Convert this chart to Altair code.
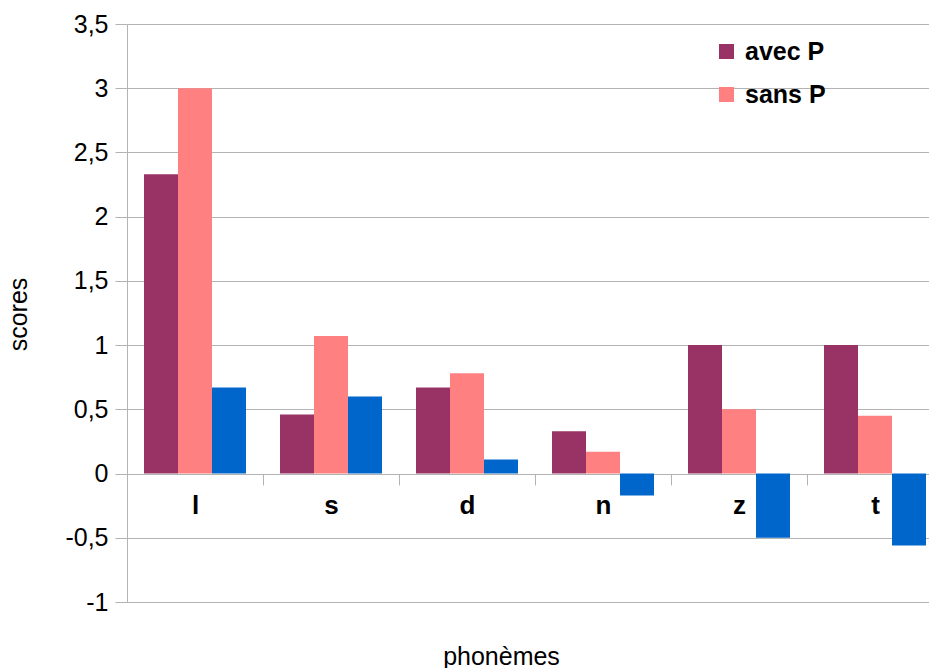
import altair as alt
import pandas as pd

phonemes = ["l", "s", "d", "n", "z", "t"]
avec_p = [2.33, 0.46, 0.67, 0.33, 1.0, 1.0]
sans_p = [3.0, 1.07, 0.78, 0.17, 0.5, 0.45]
ecart = [0.67, 0.6, 0.11, -0.17, -0.5, -0.56]
series_names = ["avec P", "sans P", "écart"]
legend_names = ["avec P", "sans P"]
colors = ["#993366", "#FF8080", "#0066CC"]
y_ticks = [-1, -0.5, 0, 0.5, 1, 1.5, 2, 2.5, 3, 3.5]

rows = []
for name, vals in zip(series_names, [avec_p, sans_p, ecart]):
    for ph, v in zip(phonemes, vals):
        rows.append({"phoneme": ph, "serie": name, "score": v})
df = pd.DataFrame(rows)

FONT = "Liberation Sans"
GRID = "#b3b3b3"

chart = alt.Chart(df).mark_bar().encode(
    x=alt.X(
        "phoneme:N",
        sort=phonemes,
        scale=alt.Scale(range=[0, 816], paddingInner=0, paddingOuter=0),
        axis=alt.Axis(
            title="phonèmes",
            offset=-128,
            tickBand="extent",
            grid=False,
            domainColor=GRID,
            tickColor=GRID,
            tickSize=11,
            labelAngle=0,
            labelFont=FONT,
            labelFontSize=26,
            labelFontWeight="bold",
            labelColor="#000000",
            labelPadding=7,
            labelBaseline="top",
            titleFont=FONT,
            titleFontSize=25,
            titleFontWeight="normal",
            titleColor="#000000",
            titleX=374,
            titleY=182,
            titleAlign="center",
            titleBaseline="middle",
        ),
    ),
    xOffset=alt.XOffset(
        "serie:N",
        sort=series_names,
        scale=alt.Scale(paddingInner=0, paddingOuter=0.5),
    ),
    y=alt.Y(
        "score:Q",
        scale=alt.Scale(domain=[-1, 3.5], nice=False, zero=False),
        axis=alt.Axis(
            title="scores",
            values=y_ticks,
            labelExpr="replace(toString(datum.value), '.', ',')",
            grid=True,
            gridColor=GRID,
            domainColor=GRID,
            tickColor=GRID,
            tickSize=12,
            labelFont=FONT,
            labelFontSize=25,
            labelColor="#000000",
            labelPadding=7,
            titleFont=FONT,
            titleFontSize=25,
            titleFontWeight="normal",
            titleColor="#000000",
            titleAngle=270,
            titleX=-109,
            titleY=290,
            titleAlign="center",
            titleBaseline="middle",
        ),
    ),
    color=alt.Color(
        "serie:N",
        scale=alt.Scale(domain=series_names, range=colors),
        legend=alt.Legend(
            values=legend_names,
            title=None,
            orient="none",
            legendX=587,
            legendY=15,
            symbolType="square",
            symbolSize=225,
            symbolStrokeWidth=0,
            symbolOpacity=1,
            labelFont=FONT,
            labelFontSize=25,
            labelFontWeight="bold",
            labelColor="#000000",
            labelOffset=6,
            rowPadding=17,
            padding=0,
        ),
    ),
).properties(
    width=802,
    height=578,
    autosize=alt.AutoSizeParams(type="none"),
    padding={"left": 127, "top": 24, "right": 0, "bottom": 66},
).configure_view(stroke=None).configure(background="white")

chart.save("out.html", embed_options={"renderer": "svg", "actions": False})
